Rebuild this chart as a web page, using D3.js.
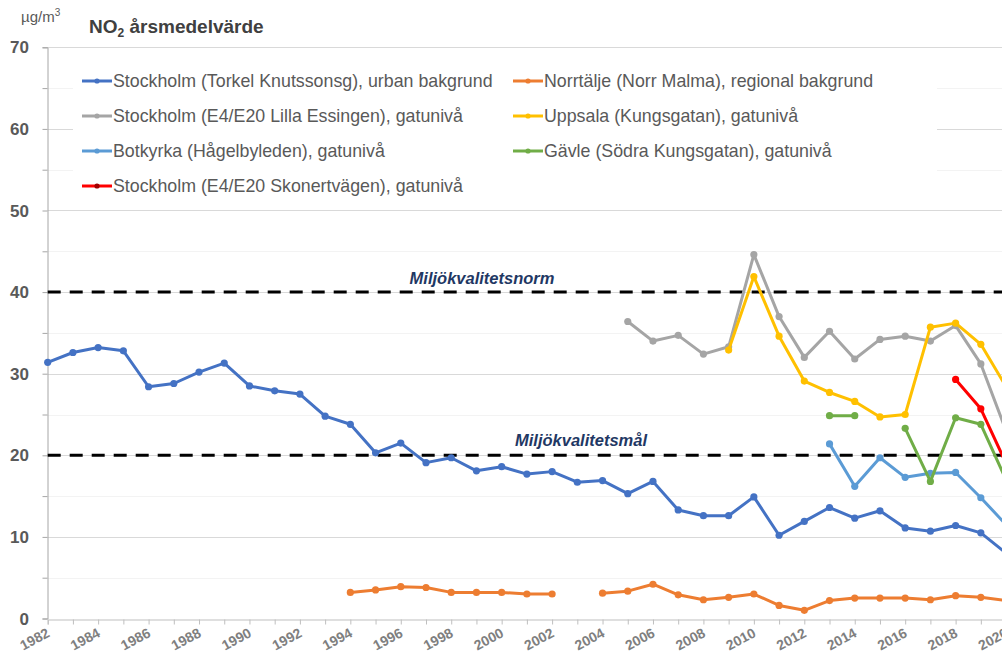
<!DOCTYPE html>
<html lang="sv">
<head>
    <meta charset="UTF-8">
    <title>NO2 årsmedelvärde</title>
    <script src="https://cdn.jsdelivr.net/npm/d3@7/dist/d3.min.js"></script>
    <style>
        body { margin: 0; background: #fff; }
        svg { display: block; font-family: "Liberation Sans", Arial, sans-serif; }
    </style>
</head>
<body>
<script>

    // years on the category axis
    var years = [1982, 1983, 1984, 1985, 1986, 1987, 1988, 1989, 1990, 1991,
                 1992, 1993, 1994, 1995, 1996, 1997, 1998, 1999, 2000, 2001,
                 2002, 2003, 2004, 2005, 2006, 2007, 2008, 2009, 2010, 2011,
                 2012, 2013, 2014, 2015, 2016, 2017, 2018, 2019, 2020];

    var yTicks = [0, 10, 20, 30, 40, 50, 60, 70];

    // series, one value per year (null = no measurement)
    var torkel = [31.4, 32.6, 33.2, 32.8, 28.4, 28.8, 30.2, 31.3, 28.5, 27.9,
                  27.5, 24.8, 23.8, 20.3, 21.5, 19.1, 19.7, 18.1, 18.6, 17.7,
                  18.0, 16.7, 16.9, 15.3, 16.8, 13.3, 12.6, 12.6, 14.9, 10.2,
                  11.9, 13.6, 12.3, 13.2, 11.1, 10.7, 11.4, 10.5, 8.0];
    var norrtalje = [null, null, null, null, null, null, null, null, null, null,
                     null, null, 3.2, 3.5, 3.9, 3.8, 3.2, 3.2, 3.2, 3.0,
                     3.0, null, 3.1, 3.35, 4.2, 2.9, 2.3, 2.6, 3.0, 1.6,
                     1.0, 2.2, 2.5, 2.5, 2.5, 2.3, 2.8, 2.6, 2.2];
    var essingen = [null, null, null, null, null, null, null, null, null, null,
                    null, null, null, null, null, null, null, null, null, null,
                    null, null, null, 36.4, 34.0, 34.7, 32.4, 33.3, 44.6, 37.0,
                    32.0, 35.2, 31.8, 34.2, 34.6, 34.0, 35.9, 31.2, 23.0];
    var uppsala = [null, null, null, null, null, null, null, null, null, null,
                   null, null, null, null, null, null, null, null, null, null,
                   null, null, null, null, null, null, null, 32.9, 41.9, 34.6,
                   29.1, 27.7, 26.6, 24.7, 25.0, 35.7, 36.2, 33.6, 28.4];
    var botkyrka = [null, null, null, null, null, null, null, null, null, null,
                    null, null, null, null, null, null, null, null, null, null,
                    null, null, null, null, null, null, null, null, null, null,
                    null, 21.4, 16.2, 19.7, 17.3, 17.8, 17.9, 14.8, 11.5];
    var gavle = [null, null, null, null, null, null, null, null, null, null,
                 null, null, null, null, null, null, null, null, null, null,
                 null, null, null, null, null, null, null, null, null, null,
                 null, 24.85, 24.85, null, 23.3, 16.8, 24.6, 23.8, 17.0];
    var skonert = [null, null, null, null, null, null, null, null, null, null,
                   null, null, null, null, null, null, null, null, null, null,
                   null, null, null, null, null, null, null, null, null, null,
                   null, null, null, null, null, null, 29.3, 25.7, 19.0];

    var seriesNames = [
        "Stockholm (Torkel Knutssonsg), urban bakgrund",
        "Norrtälje (Norr Malma), regional bakgrund",
        "Stockholm (E4/E20 Lilla Essingen), gatunivå",
        "Uppsala (Kungsgatan), gatunivå",
        "Botkyrka (Hågelbyleden), gatunivå",
        "Gävle (Södra Kungsgatan), gatunivå",
        "Stockholm (E4/E20 Skonertvägen), gatunivå"
    ];
    var seriesValues = [torkel, norrtalje, essingen, uppsala, botkyrka, gavle, skonert];
    var colors = ["#4472c4", "#ed7d31", "#a5a5a5", "#ffc000", "#5b9bd5", "#70ad47", "#ff0000"];

    var normValue = 40, normLabel = "Miljökvalitetsnorm";
    var malValue = 20, malLabel = "Miljökvalitetsmål";

    var w = 1002, h = 659;

    var svg = d3.select("body").append("svg")
        .attr("width", w)
        .attr("height", h);

    // category axis runs past the right edge, the picture is cut there
    var x = d3.scaleLinear()
        .domain([1982, 2021])
        .range([47.7, 47.7 + 39 * 25.22]);

    var y = d3.scaleLinear()
        .domain([0, 70])
        .range([618.5, 47.3]);

    // minor grid
    svg.append("g").selectAll("line")
        .data(d3.range(5, 70, 10))
        .enter().append("line")
        .attr("x1", 47.7).attr("x2", w)
        .attr("y1", function(d) { return Math.round(y(d)) + 0.5; })
        .attr("y2", function(d) { return Math.round(y(d)) + 0.5; })
        .attr("stroke", "#f3f3f3");

    // major grid
    svg.append("g").selectAll("line")
        .data(yTicks.slice(1))
        .enter().append("line")
        .attr("x1", 47.7).attr("x2", w)
        .attr("y1", function(d) { return Math.round(y(d)) + 0.5; })
        .attr("y2", function(d) { return Math.round(y(d)) + 0.5; })
        .attr("stroke", "#d9d9d9");

    // y axis
    var yAxis = svg.append("g")
        .attr("transform", "translate(47.5,0)")
        .call(d3.axisLeft(y).tickValues(d3.range(0, 75, 5)).tickSize(5).tickFormat(""));
    yAxis.select(".domain").attr("stroke", "#a6a6a6");
    yAxis.selectAll(".tick line").attr("stroke", "#a6a6a6");

    svg.append("g").selectAll("text")
        .data(yTicks)
        .enter().append("text")
        .attr("x", 29)
        .attr("y", function(d) { return y(d); })
        .attr("dy", "0.36em")
        .attr("text-anchor", "end")
        .attr("font-size", "17px")
        .attr("font-weight", "bold")
        .attr("fill", "#595959")
        .text(function(d) { return d; });

    // x axis
    var xAxis = svg.append("g")
        .attr("transform", "translate(0," + (Math.round(y(0)) + 0.5) + ")")
        .call(d3.axisBottom(x).tickValues(years).tickSize(5).tickFormat(""));
    xAxis.select(".domain").attr("stroke", "#bfbfbf");
    xAxis.selectAll(".tick line").attr("stroke", "#bfbfbf");

    svg.append("g").selectAll("text")
        .data(years.filter(function(d) { return d % 2 === 0; }))
        .enter().append("text")
        .attr("transform", function(d) { return "translate(" + (x(d) + 3) + ",636) rotate(-28)"; })
        .attr("text-anchor", "end")
        .attr("font-size", "14px")
        .attr("font-weight", "bold")
        .attr("fill", "#7f7f7f")
        .text(function(d) { return d; });

    // limit lines
    [normValue, malValue].forEach(function(v) {
        svg.append("line")
            .attr("x1", 47.7).attr("x2", w)
            .attr("y1", y(v)).attr("y2", y(v))
            .attr("stroke", "#000")
            .attr("stroke-width", 3)
            .attr("stroke-dasharray", "13,9");
    });

    svg.append("text")
        .attr("x", 482).attr("y", y(normValue) - 8)
        .attr("text-anchor", "middle")
        .attr("font-size", "16.5px")
        .attr("font-weight", "bold")
        .attr("font-style", "italic")
        .attr("fill", "#1f3864")
        .text(normLabel);

    svg.append("text")
        .attr("x", 581).attr("y", y(malValue) - 9)
        .attr("text-anchor", "middle")
        .attr("font-size", "16.5px")
        .attr("font-weight", "bold")
        .attr("font-style", "italic")
        .attr("fill", "#1f3864")
        .text(malLabel);

    // series
    var line = d3.line()
        .defined(function(d) { return d.v !== null; })
        .x(function(d) { return x(d.year); })
        .y(function(d) { return y(d.v); });

    seriesValues.forEach(function(vals, i) {
        var pts = years.map(function(yr, j) { return { year: yr, v: vals[j] }; });
        var g = svg.append("g");
        g.append("path")
            .attr("d", line(pts))
            .attr("fill", "none")
            .attr("stroke", colors[i])
            .attr("stroke-width", 3)
            .attr("stroke-linejoin", "round");
        g.selectAll("circle")
            .data(pts.filter(function(d) { return d.v !== null; }))
            .enter().append("circle")
            .attr("cx", function(d) { return x(d.year); })
            .attr("cy", function(d) { return y(d.v); })
            .attr("r", 3.6)
            .attr("fill", colors[i]);
    });

    // legend
    var legend = svg.append("g");
    legend.append("rect")
        .attr("x", 73).attr("y", 62)
        .attr("width", 864).attr("height", 138)
        .attr("fill", "#fff");

    seriesNames.forEach(function(name, i) {
        var col = i % 2, row = Math.floor(i / 2);
        var lx = col === 0 ? 82 : 513;
        var ly = 81 + row * 35;
        legend.append("line")
            .attr("x1", lx).attr("x2", lx + 30)
            .attr("y1", ly).attr("y2", ly)
            .attr("stroke", colors[i])
            .attr("stroke-width", 3);
        legend.append("circle")
            .attr("cx", lx + 15).attr("cy", ly)
            .attr("r", 2.6)
            .attr("fill", i === 6 ? "#a00000" : colors[i]);
        legend.append("text")
            .attr("x", lx + 31).attr("y", ly)
            .attr("dy", "0.36em")
            .attr("font-size", "17.8px")
            .attr("fill", "#595959")
            .text(name);
    });

    // titles
    var unit = svg.append("text")
        .attr("x", 21).attr("y", 22)
        .attr("font-size", "15px")
        .attr("fill", "#595959");
    unit.append("tspan").text("µg/m");
    unit.append("tspan").attr("font-size", "10px").attr("dy", "-6").text("3");

    var title = svg.append("text")
        .attr("x", 89).attr("y", 33)
        .attr("font-size", "19px")
        .attr("font-weight", "bold")
        .attr("fill", "#404040");
    title.append("tspan").text("NO");
    title.append("tspan").attr("font-size", "12px").attr("dy", "4").text("2");
    title.append("tspan").attr("dy", "-4").text(" årsmedelvärde");

</script>
</body>
</html>
